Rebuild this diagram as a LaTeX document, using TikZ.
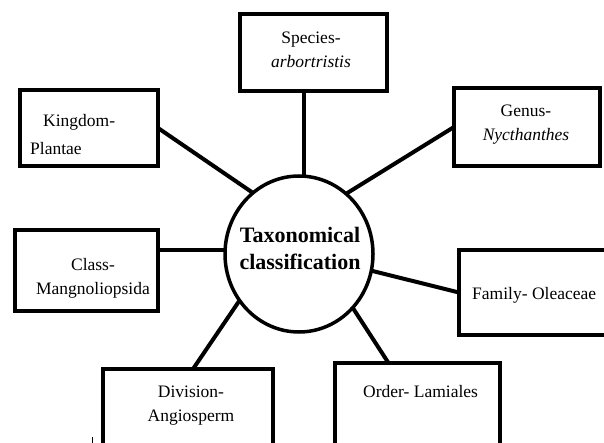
\documentclass[tikz,border=0pt]{standalone}
\usepackage{fontspec}
\setmainfont{Liberation Serif}
\usetikzlibrary{shapes.geometric}
\begin{document}
\begin{tikzpicture}[x=1pt,y=-1pt,
  box/.style={draw, line width=4pt, rectangle, inner sep=0pt, outer sep=0pt},
  hub/.style={draw, ellipse, line width=3.5pt, inner sep=0pt, outer sep=0pt, minimum width=148pt, minimum height=156pt},
  link/.style={line width=4pt},
  lbl/.style={font=\fontsize{17.5}{24}\selectfont, inner sep=0pt, align=center},
  hubtxt/.style={font=\fontsize{22}{27}\selectfont\bfseries, inner sep=0pt, align=center}]
\useasboundingbox (0,0) rectangle (604,443);
\clip (0,0) rectangle (604,443);
% boxes
\node[box, minimum width=147pt, minimum height=77pt] (sp) at (313.5,52.5) {};
\node[box, minimum width=138pt, minimum height=76pt] (ki) at (89,128) {};
\node[box, minimum width=146pt, minimum height=78pt] (ge) at (527,127) {};
\node[box, minimum width=143pt, minimum height=81pt] (cl) at (86.5,270.5) {};
\node[box, minimum width=164pt, minimum height=85pt] (fa) at (541,292.5) {};
\node[box, minimum width=170pt, minimum height=88pt] (di) at (188,413) {};
\node[box, minimum width=165pt, minimum height=94pt] (or) at (417.5,410) {};
% hub
\node[hub] (c) at (299,254) {};
\node[hubtxt] (ct) at (300,248) {Taxonomical\\classification};
% connectors
\draw[link] (c.86) -- (c.86 |- sp.south);
\draw[link] (ki.east) -- (c.127);
\draw[link] (ge.west) -- (c.52);
\draw[link] (c.177) -- (c.177 -| cl.east);
\draw[link] (c.-13) -- (fa.west);
\draw[link] (c.218) -- ([xshift=5pt]di.north);
\draw[link] (c.315) -- ([xshift=-29pt]or.north);
% labels
\node[lbl] (spt) at (311,50) {Species-\\\textit{arbortristis}};
\node[lbl, anchor=base west] (kit1) at (43,127) {Kingdom-};
\node[lbl, anchor=base west] (kit2) at (30,155) {Plantae};
\node[lbl] (get) at (526,125) {Genus-\\\textit{Nycthanthes}};
\node[lbl] (clt) at (93,278) {Class-\\Mangnoliopsida};
\node[lbl, anchor=base west] (fat) at (472,299) {Family- Oleaceae};
\node[lbl] (dit) at (191,406) {Division-\\Angiosperm};
\node[lbl, anchor=base west] (ort) at (363,397) {Order- Lamiales};
% small tick mark
\coordinate (t1) at (92,437);
\coordinate (t2) at (92,443);
\draw[line width=1pt] (t1) -- (t2);
\end{tikzpicture}
\end{document}
